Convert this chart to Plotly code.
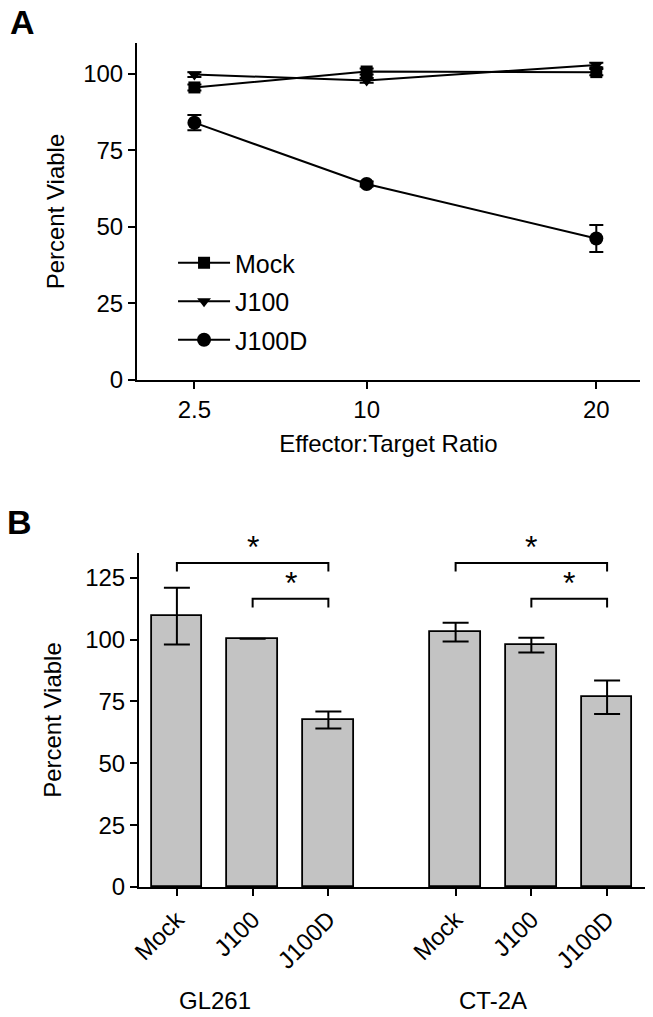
import plotly.graph_objects as go

# ---- Panel A data ----
ratios = [2.5, 10, 20]
mock_a = [95.5, 100.7, 100.5]
mock_a_err = [1.0, 1.0, 1.0]
j100_a = [99.7, 97.8, 102.8]
j100_a_err = [0.8, 0.8, 0.8]
j100d_a = [84.0, 64.0, 46.2]
j100d_a_err = [2.5, 0.8, 4.4]

# ---- Panel B data ----
conditions = ["Mock", "J100", "J100D"]
groups = ["GL261", "CT-2A"]
gl261_mean = [109.5, 100.4, 67.5]
gl261_err = [11.5, 0.0, 3.4]
ct2a_mean = [103.0, 97.8, 76.7]
ct2a_err = [3.8, 3.0, 6.8]
# significance comparisons (index pairs within group, bracket height)
comparisons = [(0, 2, 131.0), (1, 2, 116.5)]

FONT = "Liberation Sans, Arial, sans-serif"
group_gap = 3.68

fig = go.Figure()

line_series = [
    ("Mock", mock_a, mock_a_err, "square", 12),
    ("J100", j100_a, j100_a_err, "triangle-down", 12),
    ("J100D", j100d_a, j100d_a_err, "circle", 14),
]
for name, ys, errs, sym, sz in line_series:
    fig.add_trace(go.Scatter(
        x=ratios, y=ys, name=name, mode="lines+markers", legendgroup=name,
        line=dict(color="black", width=2),
        marker=dict(symbol=sym, size=sz, color="black"),
        error_y=dict(type="data", array=errs, color="black", thickness=2, width=7),
        xaxis="x", yaxis="y",
    ))

means = [gl261_mean, ct2a_mean]
errs_b = [gl261_err, ct2a_err]
xs, ys, es, labels = [], [], [], []
for gi, g in enumerate(groups):
    for ci, c in enumerate(conditions):
        xs.append(gi * group_gap + ci)
        ys.append(means[gi][ci])
        es.append(errs_b[gi][ci])
        labels.append(c)

fig.add_trace(go.Bar(
    x=xs, y=ys, width=0.67, showlegend=False,
    marker=dict(color="#c3c3c3", line=dict(color="black", width=1.8)),
    error_y=dict(type="data", array=es, color="black", thickness=2, width=13),
    xaxis="x2", yaxis="y2",
))

shapes = []
annotations = []
for gi, g in enumerate(groups):
    for a, b, yv in comparisons:
        xa = gi * group_gap + a
        xb = gi * group_gap + b
        drop = 3.5
        shapes.append(dict(type="path", xref="x2", yref="y2",
                           path=f"M {xa},{yv - drop} L {xa},{yv} L {xb},{yv} L {xb},{yv - drop}",
                           line=dict(color="black", width=2)))
        annotations.append(dict(x=(xa + xb) / 2, y=yv - 1.5, xref="x2", yref="y2",
                                text="*", showarrow=False, yanchor="bottom",
                                font=dict(size=32, color="black", family=FONT)))
    annotations.append(dict(x=gi * group_gap + 0.5, y=0.0167, xref="x2", yref="paper",
                            text=g, showarrow=False, yanchor="middle",
                            font=dict(size=24, color="black", family=FONT)))

annotations.append(dict(x=0.012, y=0.999, xref="paper", yref="paper", text="<b>A</b>",
                        showarrow=False, xanchor="left", yanchor="top",
                        font=dict(size=34, color="black", family=FONT)))
annotations.append(dict(x=0.008, y=0.507, xref="paper", yref="paper", text="<b>B</b>",
                        showarrow=False, xanchor="left", yanchor="top",
                        font=dict(size=34, color="black", family=FONT)))

axis_common = dict(showline=True, linecolor="black", linewidth=2, ticks="outside",
                   ticklen=7, tickwidth=2, tickcolor="black", showgrid=False,
                   zeroline=False, automargin=False,
                   tickfont=dict(size=24, color="black", family=FONT))

fig.update_layout(
    width=653, height=1017,
    margin=dict(l=0, r=0, t=0, b=0),
    paper_bgcolor="white", plot_bgcolor="white",
    font=dict(family=FONT, color="black"),
    xaxis=dict(domain=[0.2098, 0.980], range=[0, 21.9], tickvals=ratios,
               ticktext=["2.5", "10", "20"], anchor="y",
               title=dict(text="Effector:Target Ratio", font=dict(size=24), standoff=13),
               **axis_common),
    yaxis=dict(domain=[0.6263, 0.9577], range=[0, 110], tickvals=[0, 25, 50, 75, 100],
               anchor="x", title=dict(text="Percent Viable", font=dict(size=24), standoff=12),
               **axis_common),
    xaxis2=dict(domain=[0.2129, 0.9877], range=[-0.5, 6.18], tickvals=xs, ticktext=labels,
                tickangle=-45, anchor="y2", **axis_common),
    yaxis2=dict(domain=[0.1278, 0.4562], range=[0, 135], tickvals=[0, 25, 50, 75, 100, 125],
                anchor="x2", title=dict(text="Percent Viable", font=dict(size=24), standoff=17),
                **axis_common),
    legend=dict(x=0.265, y=0.764, xanchor="left", yanchor="top",
                font=dict(size=25, color="black", family=FONT),
                bgcolor="rgba(0,0,0,0)", itemwidth=52, tracegroupgap=3),
    shapes=shapes,
    annotations=annotations,
    bargap=0,
)

fig.write_html("out.html", config={"displayModeBar": False},
               post_script="document.body.style.margin='0';")
